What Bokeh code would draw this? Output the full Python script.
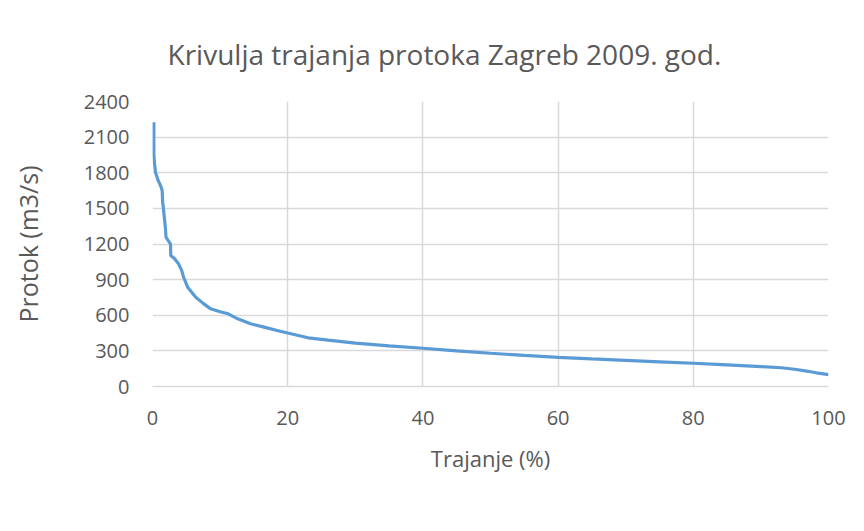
from bokeh.plotting import figure
from bokeh.models import FixedTicker, Range1d, Title
from bokeh.embed import file_html
from bokeh.resources import INLINE

# Duration (% of time exceeded) and flow (m3/s)
trajanje = [0.2, 0.2, 0.3, 0.44, 0.8, 1.2, 1.43, 1.5, 1.6, 1.7, 1.8, 1.9, 2.0,
            2.3, 2.66, 2.7, 3.2, 3.85, 4.3, 4.6, 5.2, 6.4, 7.5, 8.6, 10.0,
            11.2, 12.6, 14.5, 16.5, 18.9, 20.0, 21.9, 23.0, 26, 30, 35, 40,
            45, 50, 55, 60, 65, 70, 75, 80, 85, 90, 93, 95, 97, 98.5, 100]
protok = [2225, 1950, 1880, 1805, 1740, 1690, 1650, 1550, 1510, 1450, 1398,
          1340, 1257, 1230, 1201, 1103, 1080, 1033, 980, 920, 836, 752, 700,
          654, 630, 612, 570, 528, 500, 465, 450, 425, 410, 390, 365, 342,
          322, 300, 280, 262, 245, 232, 220, 208, 196, 182, 168, 158, 145,
          128, 112, 100]

x_ticks = [0, 20, 40, 60, 80, 100]
y_ticks = [0, 300, 600, 900, 1200, 1500, 1800, 2100, 2400]

title_text = "Krivulja trajanja protoka Zagreb 2009. god."
x_label = "Trajanje (%)"
y_label = "Protok (m3/s)"

FONT = "Open Sans"
TXT = "#595959"
GRID = "#d9d9d9"

p = figure(width=848, height=515, output_backend="svg", toolbar_location=None,
           x_range=Range1d(0, 100), y_range=Range1d(0, 2400),
           min_border_left=152, min_border_right=20, min_border_top=101,
           min_border_bottom=129)
p.outline_line_color = None

t = Title(text=title_text, align="left", offset=15, text_font=FONT,
          text_font_size="28px", text_font_style="normal", text_color=TXT,
          vertical_align="top", standoff=54)
p.add_layout(t, "above")

p.line(trajanje, protok, line_color="#5b9bd5", line_width=3.2)

for ax in (p.xaxis[0], p.yaxis[0]):
    ax.major_tick_line_color = None
    ax.minor_tick_line_color = None
    ax.major_label_text_font = FONT
    ax.major_label_text_font_size = "20px"
    ax.major_label_text_color = TXT
    ax.axis_label_text_font = FONT
    ax.axis_label_text_font_style = "normal"
    ax.axis_label_text_color = TXT

p.xaxis.axis_label_text_font_size = "22px"
p.yaxis.axis_label_text_font_size = "25px"
p.xaxis.ticker = FixedTicker(ticks=x_ticks)
p.yaxis.ticker = FixedTicker(ticks=y_ticks)
p.xaxis.axis_label = x_label
p.yaxis.axis_label = y_label
p.xaxis.axis_line_color = GRID
p.xaxis.axis_line_width = 1.5
p.yaxis.axis_line_color = None
p.xaxis.major_label_standoff = 18
p.yaxis.major_label_standoff = 17
p.xaxis.axis_label_standoff = 15
p.yaxis.axis_label_standoff = 36

p.xgrid.grid_line_color = GRID
p.ygrid.grid_line_color = GRID
p.xgrid.grid_line_width = 1.5
p.ygrid.grid_line_width = 1.5

open("out.html", "w").write(file_html(p, INLINE))
